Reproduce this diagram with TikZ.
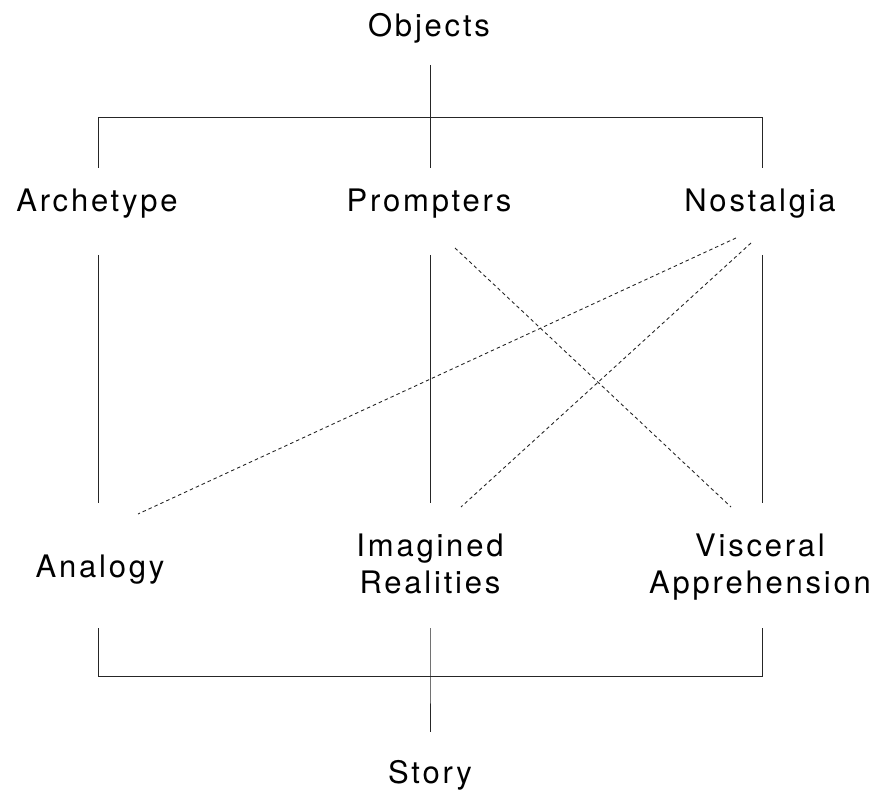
\documentclass[tikz,border=0pt]{standalone}
\usepackage{fontspec}
\newfontfamily\labelfont[LetterSpace=9]{TeX Gyre Heros}
\usetikzlibrary{positioning}

\tikzset{
  lbl/.style={font=\labelfont\fontsize{31}{37}\selectfont, inner sep=0pt, anchor=base},
  lbltwo/.style={lbl, align=center},
  tree/.style={line width=1pt, black!85},
  hint/.style={line width=0.9pt, black!85, dash pattern=on 3.5pt off 3pt}
}

\begin{document}
\begin{tikzpicture}[x=1pt, y=-1pt]
  \useasboundingbox (0,0) rectangle (881,794);

  % --- labels ---
  \node[lbl] (objects) at (429, 37) {Objects};
  \node[lbl] (archetype) at (97, 212) {Archetype};
  \node[lbl] (prompters) at (429, 212) {Prompters};
  \node[lbl] (nostalgia) at (760, 212) {Nostalgia};
  \node[lbl] (analogy) at (100, 577) {Analogy};
  \node[lbltwo] (imagined) at (430, 593) {Imagined\\Realities};
  \node[lbltwo] (visceral) at (760, 593) {Visceral\\Apprehension};
  \node[lbl] (story) at (430, 783) {Story};

  % --- top bracket ---
  \coordinate (obj-end) at (430, 65);
  \coordinate (top-mid) at (430, 118);
  \coordinate (top-left) at (98, 118);
  \coordinate (top-right) at (762, 118);
  \coordinate (arch-in) at (98, 168);
  \coordinate (prom-in) at (430, 168);
  \coordinate (nost-in) at (762, 168);
  \draw[tree] (obj-end) -- (top-mid);
  \draw[tree] (arch-in) -- (top-left) -- (top-right) -- (nost-in);
  \draw[tree] (top-mid) -- (prom-in);

  % --- middle columns ---
  \coordinate (arch-out) at (98, 255);
  \coordinate (prom-out) at (430, 255);
  \coordinate (nost-out) at (762, 255);
  \coordinate (anal-in) at (98, 503);
  \coordinate (imag-in) at (430, 503);
  \coordinate (visc-in) at (762, 503);
  \draw[tree] (arch-out) -- (anal-in);
  \draw[tree] (prom-out) -- (imag-in);
  \draw[tree] (nost-out) -- (visc-in);

  % --- cross links ---
  \coordinate (prom-x) at (455, 248);
  \coordinate (visc-x) at (731, 507);
  \coordinate (nost-xa) at (736, 238);
  \coordinate (anal-x) at (138, 514);
  \coordinate (nost-xb) at (751, 243);
  \coordinate (imag-x) at (461, 507);
  \draw[hint] (prom-x) -- (visc-x);
  \draw[hint] (nost-xa) -- (anal-x);
  \draw[hint] (nost-xb) -- (imag-x);

  % --- bottom bracket ---
  \coordinate (anal-out) at (98, 628);
  \coordinate (imag-out) at (430, 628);
  \coordinate (visc-out) at (762, 628);
  \coordinate (bot-left) at (98, 676);
  \coordinate (bot-mid) at (430, 676);
  \coordinate (bot-right) at (762, 676);
  \coordinate (story-end) at (430, 732);
  \draw[tree] (anal-out) -- (bot-left) -- (bot-right) -- (visc-out);
  \draw[tree] (imag-out) -- (bot-mid) -- (story-end);
\end{tikzpicture}
\end{document}
